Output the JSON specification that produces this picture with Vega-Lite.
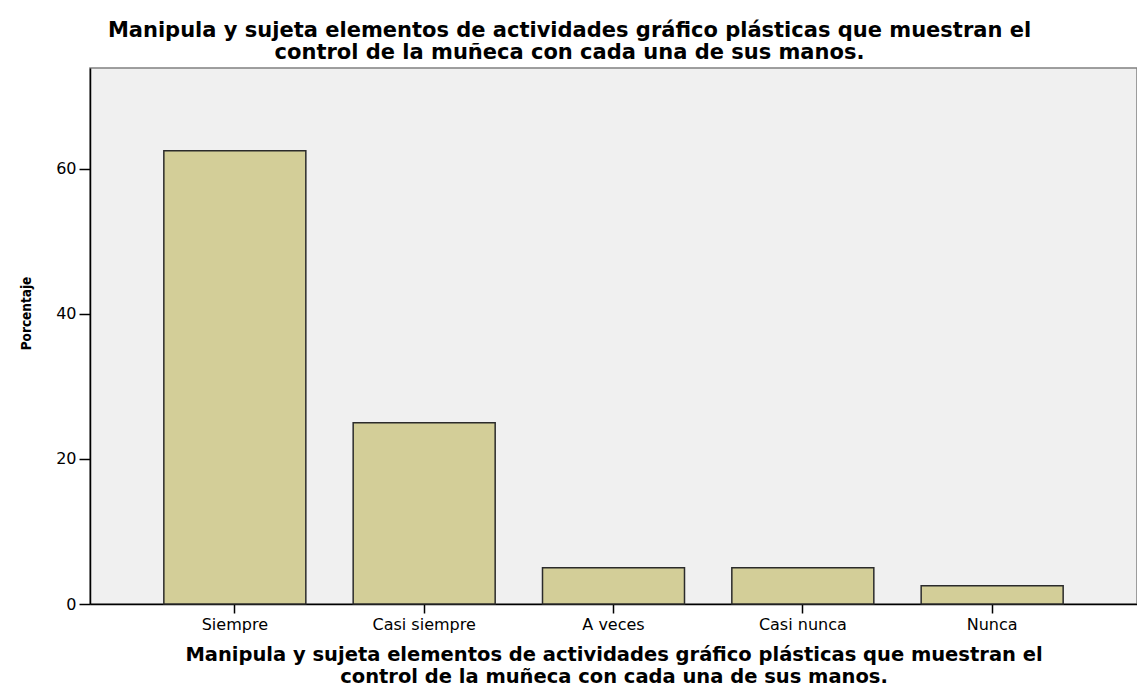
{
  "$schema": "https://vega.github.io/schema/vega-lite/v6.json",
  "width": 1047,
  "height": 536,
  "autosize": "none",
  "padding": {"left": 90, "top": 68, "right": 0, "bottom": 84},
  "background": "white",
  "title": {
    "text": ["Manipula y sujeta elementos de actividades gráfico plásticas que muestran el", "control de la muñeca con cada una de sus manos."],
    "font": "DejaVu Sans",
    "fontSize": 21,
    "fontWeight": "bold",
    "color": "black",
    "lineHeight": 22,
    "anchor": "middle",
    "dx": -44,
    "offset": -16,
    "baseline": "bottom"
  },
  "config": {
    "view": {"fill": "#f0f0f0", "stroke": "#808080", "strokeWidth": 1.5}
  },
  "data": {
    "values": [
      {"categoria": "Siempre", "porcentaje": 62.5},
      {"categoria": "Casi siempre", "porcentaje": 25},
      {"categoria": "A veces", "porcentaje": 5},
      {"categoria": "Casi nunca", "porcentaje": 5},
      {"categoria": "Nunca", "porcentaje": 2.5}
    ]
  },
  "mark": {"type": "bar", "fill": "#d3ce98", "stroke": "#2b2b2b", "strokeWidth": 1.5},
  "encoding": {
    "x": {
      "field": "categoria",
      "type": "nominal",
      "sort": null,
      "scale": {"paddingInner": 0.25, "paddingOuter": 0.39},
      "axis": {
        "title": ["Manipula y sujeta elementos de actividades gráfico plásticas que muestran el", "control de la muñeca con cada una de sus manos."],
        "titleFont": "DejaVu Sans",
        "titleFontSize": 19.5,
        "titleFontWeight": "bold",
        "titleColor": "black",
        "titleLineHeight": 22,
        "titlePadding": 13,
        "labelAngle": 0,
        "labelFont": "DejaVu Sans",
        "labelFontSize": 16,
        "labelColor": "black",
        "labelPadding": 3,
        "domainColor": "black",
        "domainWidth": 1.5,
        "tickColor": "black",
        "tickWidth": 1.5,
        "tickSize": 9
      }
    },
    "y": {
      "field": "porcentaje",
      "type": "quantitative",
      "scale": {"domain": [0, 73.93], "nice": false},
      "axis": {
        "title": "Porcentaje",
        "titleFont": "DejaVu Sans Condensed, DejaVu Sans, sans-serif",
        "titleFontSize": 13.5,
        "titleFontWeight": "bold",
        "titleColor": "black",
        "titleAngle": -90,
        "titleX": -60,
        "titleY": 245,
        "titleAlign": "center",
        "titleBaseline": "alphabetic",
        "values": [0, 20, 40, 60],
        "grid": false,
        "labelFont": "DejaVu Sans",
        "labelFontSize": 16,
        "labelColor": "black",
        "labelPadding": 3,
        "domainColor": "black",
        "domainWidth": 1.5,
        "tickColor": "black",
        "tickWidth": 1.5,
        "tickSize": 11
      }
    }
  }
}
